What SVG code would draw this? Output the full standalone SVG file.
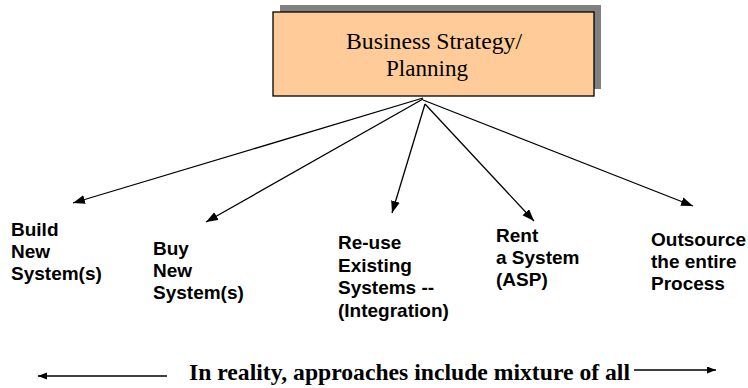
<svg xmlns="http://www.w3.org/2000/svg" width="748" height="388" viewBox="0 0 748 388">
<style>
.lbl{font-family:"Liberation Sans",Arial,sans-serif;font-weight:bold;font-size:19px;fill:#000}
.ttl{font-family:"Liberation Serif","Times New Roman",serif;font-size:23px;fill:#000}
.foot{font-family:"Liberation Serif","Times New Roman",serif;font-weight:bold;font-size:24px;fill:#000}
.conn{stroke:#000;stroke-width:1.3;fill:none}
</style>
<defs>
<marker id="ah" markerUnits="userSpaceOnUse" markerWidth="13" markerHeight="10" refX="12" refY="4.5" orient="auto">
<path d="M0,0 L12,4.5 L0,9 z" fill="#000"/>
</marker>
<marker id="ahs" markerUnits="userSpaceOnUse" markerWidth="10" markerHeight="8" refX="9" refY="3.5" orient="auto">
<path d="M0,0 L9,3.5 L0,7 z" fill="#000"/>
</marker>
</defs>
<rect width="748" height="388" fill="#fff"/>
<g id="strategy">
<rect x="280" y="5" width="321" height="84" fill="#808080"/>
<rect x="273" y="12" width="321" height="84" fill="#FFCC99" stroke="#000" stroke-width="1.3"/>
<text class="ttl" x="346" y="49" textLength="176" lengthAdjust="spacingAndGlyphs">Business Strategy/</text>
<text class="ttl" x="386" y="76" textLength="82" lengthAdjust="spacingAndGlyphs">Planning</text>
</g>
<g id="connectors">
<line class="conn" x1="423" y1="98" x2="73" y2="203" marker-end="url(#ah)"/>
<line class="conn" x1="423" y1="99" x2="206" y2="222" marker-end="url(#ah)"/>
<line class="conn" x1="425" y1="104" x2="392" y2="213" marker-end="url(#ah)"/>
<line class="conn" x1="425" y1="104" x2="534" y2="221" marker-end="url(#ah)"/>
<line class="conn" x1="423" y1="100" x2="693" y2="206" marker-end="url(#ah)"/>
<line class="conn" x1="167" y1="376" x2="38" y2="376" marker-end="url(#ahs)"/>
<line class="conn" x1="634" y1="370" x2="716" y2="370" marker-end="url(#ahs)"/>
</g>
<g id="build">
<text class="lbl" x="11" y="236">Build</text>
<text class="lbl" x="11" y="258">New</text>
<text class="lbl" x="11" y="280">System(s)</text>
</g>
<g id="buy">
<text class="lbl" x="153" y="255">Buy</text>
<text class="lbl" x="153" y="277">New</text>
<text class="lbl" x="153" y="299">System(s)</text>
</g>
<g id="reuse">
<text class="lbl" x="338" y="249">Re-use</text>
<text class="lbl" x="338" y="271.5">Existing</text>
<text class="lbl" x="338" y="294">Systems --</text>
<text class="lbl" x="338" y="316.5">(Integration)</text>
</g>
<g id="rent">
<text class="lbl" x="496" y="242">Rent</text>
<text class="lbl" x="496" y="264">a System</text>
<text class="lbl" x="496" y="286">(ASP)</text>
</g>
<g id="outsource">
<text class="lbl" x="651" y="246">Outsource</text>
<text class="lbl" x="651" y="268">the entire</text>
<text class="lbl" x="651" y="290">Process</text>
</g>
<g id="note">
<text class="foot" x="189" y="380" textLength="441" lengthAdjust="spacingAndGlyphs">In reality, approaches include mixture of all</text>
</g>
</svg>
